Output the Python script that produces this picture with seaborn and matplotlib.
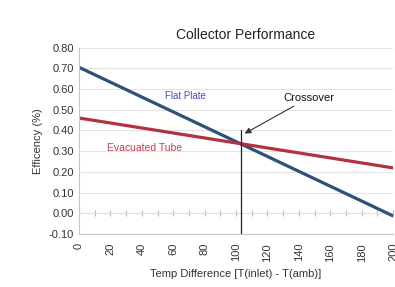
import pandas as pd
import seaborn as sns
from matplotlib import pyplot as plt
from matplotlib.ticker import MultipleLocator

temp_diff = [0, 200]
flat_plate = [0.705, -0.013]
evacuated_tube = [0.46, 0.219]
crossover_x = 103
crossover_top = 0.40

BLUE = "#2f5079"
RED = "#b3323f"

df = pd.DataFrame({
    "Temp": temp_diff * 2,
    "Efficiency": flat_plate + evacuated_tube,
    "Collector": ["Flat Plate"] * 2 + ["Evacuated Tube"] * 2,
})

sns.set_style("white")
plt.rcParams["font.family"] = ["Liberation Sans", "DejaVu Sans"]

fig = plt.figure(figsize=(3.95, 2.87), dpi=100)
ax = fig.add_axes([0.2, 0.185, 0.795, 0.649])

sns.lineplot(
    data=df, x="Temp", y="Efficiency", hue="Collector",
    palette={"Flat Plate": BLUE, "Evacuated Tube": RED},
    linewidth=2.3, legend=False, ax=ax,
)

ax.set_xlim(0, 200)
ax.set_ylim(-0.10, 0.80)
ax.yaxis.set_major_locator(MultipleLocator(0.1))
ax.xaxis.set_major_locator(MultipleLocator(20))
ax.xaxis.set_minor_locator(MultipleLocator(10))
ax.yaxis.set_major_formatter(plt.FuncFormatter(lambda v, p: f"{v:.2f}"))
ax.grid(axis="y", color="#e3e3e3", linewidth=0.8)
ax.set_axisbelow(True)

for s in ["top", "right"]:
    ax.spines[s].set_visible(False)
for s in ["left", "bottom"]:
    ax.spines[s].set_color("#c8c8c8")
    ax.spines[s].set_linewidth(0.8)

ax.tick_params(axis="x", which="both", direction="out", length=3,
               color="#b0b0b0", labelsize=8, labelrotation=90, labelcolor="#333333")
ax.tick_params(axis="y", length=0, labelsize=8, labelcolor="#333333")

# small ticks along the zero line
sec = ax.secondary_xaxis(0.1 / 0.9)
sec.xaxis.set_major_locator(MultipleLocator(10))
sec.tick_params(direction="inout", length=4, color="#b8b8b8", labelbottom=False)
sec.spines["bottom"].set_visible(False)

ax.plot([crossover_x, crossover_x], [-0.10, crossover_top], color="#222222", linewidth=0.9)

ax.annotate("Crossover", xy=(105.5, 0.385), xytext=(130, 0.557),
            fontsize=8, color="#111111", va="center", ha="left",
            arrowprops=dict(arrowstyle="-|>", color="#333333", lw=0.8,
                            mutation_scale=9, shrinkA=0, shrinkB=0))
ax.text(67.5, 0.567, "Flat Plate", color="#4a4acc", fontsize=7, ha="center", va="center")
ax.text(42, 0.315, "Evacuated Tube", color="#c0404e", fontsize=7.5, ha="center", va="center")

ax.set_title("Collector Performance", fontsize=10, color="#222222", pad=6, x=0.53)
ax.set_xlabel("Temp Difference [T(inlet) - T(amb)]", fontsize=8, color="#333333", labelpad=5)
ax.set_ylabel("Efficency (%)", fontsize=8, color="#333333", labelpad=4)

fig.savefig("out.png", dpi=100)
